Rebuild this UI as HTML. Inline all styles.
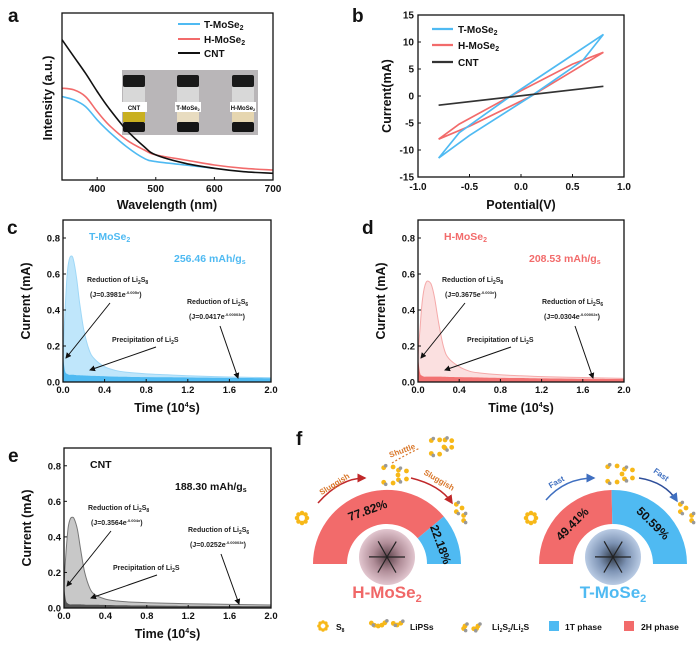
<!DOCTYPE html>
<html><head><meta charset="utf-8"><style>
html,body{margin:0;padding:0;background:#fff;}
svg{display:block;font-family:"Liberation Sans",Arial,sans-serif;font-weight:bold;}
</style></head><body>
<svg id="fig" width="700" height="647" viewBox="0 0 700 647">
<defs>
<radialGradient id="gPink" cx="50%" cy="50%" r="50%"><stop offset="0" stop-color="#5a4048"/><stop offset="0.5" stop-color="#b08d98"/><stop offset="1" stop-color="#e2c6cf"/></radialGradient>
<radialGradient id="gBlue" cx="50%" cy="50%" r="50%"><stop offset="0" stop-color="#303a48"/><stop offset="0.5" stop-color="#7d93b4"/><stop offset="1" stop-color="#b9cbe4"/></radialGradient>
<marker id="ah" markerWidth="6" markerHeight="6" refX="5" refY="3" orient="auto"><path d="M0,0 L6,3 L0,6 z" fill="#111"/></marker>
<marker id="ahR" markerWidth="6" markerHeight="6" refX="5" refY="3" orient="auto"><path d="M0,0 L6,3 L0,6 z" fill="#c0282a"/></marker>
<marker id="ahB" markerWidth="6" markerHeight="6" refX="5" refY="3" orient="auto"><path d="M0,0 L6,3 L0,6 z" fill="#3f6fc0"/></marker>
</defs>
</svg>
<script>
// ---------- Panel a data ----------
const uvWl = [340,360,380,400,420,450,480,500,550,600,650,700];
const uvCNT = [0.84,0.74,0.64,0.53,0.43,0.30,0.20,0.15,0.10,0.07,0.05,0.04];
const uvH = [0.55,0.54,0.50,0.41,0.33,0.24,0.18,0.15,0.12,0.09,0.07,0.06];
const uvT = [0.50,0.48,0.44,0.36,0.29,0.20,0.13,0.11,0.09,0.07,null,null];
const uvTicks = [400,500,600,700];
// ---------- Panel b data ----------
const cvTx = [-0.8,-0.6,-0.1,0.5,0.8,0.6,0.1,-0.5,-0.8];
const cvTy = [-11.5,-6.8,0,7.6,11.4,6.6,0,-7.3,-11.5];
const cvHx = [-0.8,-0.6,-0.1,0.5,0.8,0.5,0.1,-0.5,-0.8];
const cvHy = [-8,-5.2,0,5.9,8.1,4.6,0,-5.6,-8];
const cvCx = [-0.8,0.8];
const cvCy = [-1.7,1.8];
const cvXTicks = [-1.0,-0.5,0.0,0.5,1.0];
const cvYTicks = [-15,-10,-5,0,5,10,15];
// ---------- Panels c-e data ----------
const potT = [0,0.02,0.04,0.06,0.08,0.10,0.13,0.16,0.20,0.25,0.30,0.40,0.50,0.60,0.80,1.0,1.2,1.6,2.0];
const peakT = [0.15,0.40,0.60,0.68,0.70,0.68,0.58,0.44,0.29,0.18,0.13,0.085,0.065,0.055,0.045,0.04,0.035,0.028,0.024];
const baseT = [0.14,0.06,0.045,0.04,0.04,0.04,0.038,0.037,0.036,0.035,0.034,0.032,0.03,0.029,0.027,0.026,0.025,0.023,0.021];
const peakH = [0.15,0.30,0.44,0.52,0.555,0.56,0.54,0.47,0.33,0.19,0.13,0.085,0.06,0.05,0.04,0.035,0.03,0.025,0.02];
const baseH = [0.14,0.05,0.035,0.03,0.03,0.03,0.03,0.03,0.03,0.029,0.028,0.027,0.026,0.025,0.023,0.022,0.02,0.018,0.016];
const peakC = [0.13,0.32,0.45,0.50,0.51,0.50,0.44,0.33,0.20,0.11,0.075,0.05,0.04,0.035,0.03,0.027,0.024,0.02,0.017];
const baseC = [0.12,0.04,0.025,0.02,0.02,0.02,0.02,0.02,0.019,0.018,0.018,0.017,0.016,0.015,0.014,0.013,0.012,0.011,0.01];
const potXTicks = [0.0,0.4,0.8,1.2,1.6,2.0];
const potYTicks = [0.0,0.2,0.4,0.6,0.8];
// ---------- Panel f data ----------
const phaseH = [77.82,22.18];
const phaseT = [49.41,50.59];

const NS="http://www.w3.org/2000/svg";
const svg=document.getElementById('fig');
function el(tag,attrs,parent,txt){const e=document.createElementNS(NS,tag);for(const k in attrs)e.setAttribute(k,attrs[k]);if(txt!==undefined)e.textContent=txt;(parent||svg).appendChild(e);return e;}
function grp(name){const g=el('g',{});return g;}
function txt(g,x,y,s,size,fill,anchor,name,extra){const t=el('text',Object.assign({x:x,y:y,'font-size':size,fill:fill||'#111','text-anchor':anchor||'start'},extra||{}),g);t.innerHTML=s;return t;}
function lin(d0,d1,r0,r1){return v=>r0+(v-d0)/(d1-d0)*(r1-r0);}
// smooth path through points (Catmull-Rom -> Bezier), no leading M
function smooth(pts){let d='';for(let i=0;i<pts.length-1;i++){const p0=pts[Math.max(0,i-1)],p1=pts[i],p2=pts[i+1],p3=pts[Math.min(pts.length-1,i+2)];
 const c1=[p1[0]+(p2[0]-p0[0])/6,p1[1]+(p2[1]-p0[1])/6],c2=[p2[0]-(p3[0]-p1[0])/6,p2[1]-(p3[1]-p1[1])/6];
 d+='C'+c1[0].toFixed(1)+','+c1[1].toFixed(1)+' '+c2[0].toFixed(1)+','+c2[1].toFixed(1)+' '+p2[0].toFixed(1)+','+p2[1].toFixed(1);}return d;}
const RED='#f26b6b', BLUE='#4fbaf2';

// ---------- Panel a ----------
(function(){
 const g=grp('panel-a');
 const L=62,R=273,T=13,B=180;
 const X=lin(340,700,L,R), Y=lin(0,1,B,T);
 txt(g,8,22,'a',19,'#111','start','panel-label-a');
 const ph=grp('inset-photo'); g.appendChild(ph);
 el('rect',{x:122,y:70,width:136,height:65,fill:'#b9b6b8'},ph);
 [[134,'CNT','#c9b020'],[188,'T-MoSe<tspan font-size="4" dy="1">2</tspan>','#e8dcc0'],[243,'H-MoSe<tspan font-size="4" dy="1">2</tspan>','#e6d6b0']].forEach((v,i)=>{
  const c=v[0];
  el('rect',{x:c-11,y:75,width:22,height:12,rx:2,fill:'#1a1a1a'},ph);
  el('rect',{x:c-11,y:87,width:22,height:44,fill:'#d8d8d8'},ph);
  el('rect',{x:c-11,y:112,width:22,height:10,fill:v[2]},ph);
  el('rect',{x:c-11,y:122,width:22,height:10,rx:2,fill:'#151515'},ph);
  el('rect',{x:c-13,y:102,width:26,height:10,fill:'#fff'},ph);
  txt(ph,c,110,v[1],6,'#111','middle','vial-label-'+i);
 });
 function path(xs,ys,col,name){const pts=[];xs.forEach((x,i)=>{if(ys[i]!=null)pts.push([X(x),Y(ys[i])]);});const d='M'+pts[0][0]+','+pts[0][1]+smooth(pts);const p=el('path',{d:d,fill:'none',stroke:col,'stroke-width':1.6},g);}
 path(uvWl,uvH,RED,'line-h-mose2');
 path(uvWl,uvT,BLUE,'line-t-mose2');
 path(uvWl,uvCNT,'#111','line-cnt');
 const ax=el('rect',{x:L,y:T,width:R-L,height:B-T,fill:'none',stroke:'#111','stroke-width':1.3},g);
 
 uvTicks.forEach(t=>{el('line',{x1:X(t),x2:X(t),y1:B,y2:B-3,stroke:'#111'},g);txt(g,X(t),192,t,10,'#111','middle','x-tick-a');});
 txt(g,167,209,'Wavelength (nm)',12.5,'#111','middle','x-axis-title-a');
 txt(g,52,98,'Intensity (a.u.)',12.5,'#111','middle','y-axis-title-a',{transform:'rotate(-90 52 98)'});
 [['T-MoSe<tspan font-size="7" dy="2">2</tspan>',BLUE,28],['H-MoSe<tspan font-size="7" dy="2">2</tspan>',RED,43],['CNT','#111',57]].forEach((v,i)=>{
  el('line',{x1:178,x2:200,y1:v[2]-4,y2:v[2]-4,stroke:v[1],'stroke-width':2},g);
  txt(g,204,v[2],v[0],10,'#111','start','legend-entry-a-'+i);
 });
})();

// ---------- Panel b ----------
(function(){
 const g=grp('panel-b');
 const L=418,R=624,T=15,B=177;
 const X=lin(-1,1,L,R), Y=lin(-15,15,B,T);
 txt(g,352,22,'b',19,'#111','start','panel-label-b');
 function path(xs,ys,col,name){let d='';xs.forEach((x,i)=>{d+=(i?'L':'M')+X(x).toFixed(1)+','+Y(ys[i]).toFixed(1);});const p=el('path',{d:d,fill:'none',stroke:col,'stroke-width':1.7},g);}
 path(cvHx,cvHy,RED,'cv-h-mose2');
 path(cvTx,cvTy,BLUE,'cv-t-mose2');
 path(cvCx,cvCy,'#333','cv-cnt');
 const ax=el('rect',{x:L,y:T,width:R-L,height:B-T,fill:'none',stroke:'#111','stroke-width':1.3},g);
 
 cvXTicks.forEach(t=>{el('line',{x1:X(t),x2:X(t),y1:B,y2:B-3,stroke:'#111'},g);txt(g,X(t),190,t.toFixed(1),10,'#111','middle','x-tick-b');});
 cvYTicks.forEach(t=>{el('line',{x1:L,x2:L+3,y1:Y(t),y2:Y(t),stroke:'#111'},g);txt(g,L-4,Y(t)+3.5,t,10,'#111','end','y-tick-b');});
 txt(g,521,209,'Potential(V)',12.5,'#111','middle','x-axis-title-b');
 txt(g,391,96,'Current(mA)',12.5,'#111','middle','y-axis-title-b',{transform:'rotate(-90 391 96)'});
 [['T-MoSe<tspan font-size="7" dy="2">2</tspan>',BLUE,33],['H-MoSe<tspan font-size="7" dy="2">2</tspan>',RED,49],['CNT','#333',66]].forEach((v,i)=>{
  el('line',{x1:432,x2:453,y1:v[2]-4,y2:v[2]-4,stroke:v[1],'stroke-width':2.2},g);
  txt(g,458,v[2],v[0],10,'#111','start','legend-entry-b-'+i);
 });
})();

// ---------- Panels c,d,e ----------
function potPanel(id,L,R,T,B,peak,base,light,dark,stroke,label,labCol,cap,j1,j2){
 const g=grp('panel-'+id);
 const X=lin(0,2,L,R), Y=lin(0,0.9,B,T);
 txt(g,L-56,T+14,id,19,'#111','start','panel-label-'+id);
 function area(vals,fill,str,name){const pts=potT.map((t,i)=>[X(t),Y(vals[i])]);let d='M'+X(0)+','+Y(0)+'L'+pts[0][0]+','+pts[0][1]+smooth(pts)+'L'+X(2)+','+Y(0)+'Z';const p=el('path',{d:d,fill:fill,stroke:str,'stroke-width':1},g);}
 area(peak,light,stroke,'peak-area-'+id);
 area(base,dark,'none','baseline-area-'+id);
 const ax=el('rect',{x:L,y:T,width:R-L,height:B-T,fill:'none',stroke:'#111','stroke-width':1.3},g);
 
 potXTicks.forEach(t=>{el('line',{x1:X(t),x2:X(t),y1:B,y2:B-3,stroke:'#111'},g);txt(g,X(t),B+11,t.toFixed(1),9.5,'#111','middle','x-tick-'+id);});
 potYTicks.forEach(t=>{el('line',{x1:L,x2:L+3,y1:Y(t),y2:Y(t),stroke:'#111'},g);txt(g,L-3,Y(t)+3.5,t.toFixed(1),9.5,'#111','end','y-tick-'+id);});
 txt(g,(L+R)/2,B+30,'Time (10<tspan font-size="7" dy="-5">4</tspan><tspan dy="5">s)</tspan>',12.5,'#111','middle','x-axis-title-'+id);
 const yc=(T+B)/2;
 txt(g,L-33,yc,'Current (mA)',12.5,'#111','middle','y-axis-title-'+id,{transform:'rotate(-90 '+(L-33)+' '+yc+')'});
 txt(g,L+26,T+20,label,10.5,labCol,'start','series-label-'+id);
 txt(g,L+111,T+42,cap+' mAh/g<tspan font-size="7" dy="2">s</tspan>',10.5,labCol,'start','capacity-'+id);
 txt(g,L+24,T+62,'Reduction of Li<tspan font-size="5" dy="2">2</tspan><tspan dy="-2">S</tspan><tspan font-size="5" dy="2">8</tspan>',7,'#222','start','annot-li2s8-'+id);
 txt(g,L+27,T+77,'(J='+j1[0]+'e<tspan font-size="4" dy="-3">'+j1[1]+'</tspan><tspan dy="3">)</tspan>',7,'#222','start','annot-j1-'+id);
 el('line',{x1:L+47,y1:T+83,x2:L+3,y2:T+138,stroke:'#111','stroke-width':1,'marker-end':'url(#ah)'},g);
 txt(g,L+49,T+122,'Precipitation of Li<tspan font-size="5" dy="2">2</tspan><tspan dy="-2">S</tspan>',7,'#222','start','annot-li2s-'+id);
 el('line',{x1:L+93,y1:T+127,x2:L+27,y2:T+150,stroke:'#111','stroke-width':1,'marker-end':'url(#ah)'},g);
 txt(g,L+124,T+84,'Reduction of Li<tspan font-size="5" dy="2">2</tspan><tspan dy="-2">S</tspan><tspan font-size="5" dy="2">6</tspan>',7,'#222','start','annot-li2s6-'+id);
 txt(g,L+126,T+99,'(J='+j2[0]+'e<tspan font-size="4" dy="-3">'+j2[1]+'</tspan><tspan dy="3">)</tspan>',7,'#222','start','annot-j2-'+id);
 el('line',{x1:L+157,y1:T+106,x2:L+175,y2:B-4,stroke:'#111','stroke-width':1,'marker-end':'url(#ah)'},g);
}
potPanel('c',63,271,220,382,peakT,baseT,'#bfe6fb','#4fbaf2','#9fd8f7','T-MoSe<tspan font-size="7" dy="2">2</tspan>',BLUE,'256.46',['0.3981','-0.005x'],['0.0417','-0.00003x']);
potPanel('d',418,624,220,382,peakH,baseH,'#fbe0e0','#f27272','#f5a9a9','H-MoSe<tspan font-size="7" dy="2">2</tspan>',RED,'208.53',['0.3675','-0.003x'],['0.0304','-0.00002x']);
potPanel('e',64,271,448,608,peakC,baseC,'#c8c8c8','#555','#777','CNT','#111','188.30',['0.3564','-0.004x'],['0.0252','-0.00003x']);

// ---------- Panel f ----------
function ring(g,cx,cy,r){for(let i=0;i<8;i++){const a=i*Math.PI/4;el('circle',{cx:cx+r*Math.cos(a),cy:cy+r*Math.sin(a),r:r*0.45,fill:'#f7b818'},g);}el('circle',{cx:cx,cy:cy,r:r*0.5,fill:'#fff'},g);}
function chain(g,cx,cy,r,n,a0,a1){for(let i=0;i<n;i++){const a=a0+(a1-a0)*i/(n-1);el('circle',{cx:cx+r*Math.cos(a),cy:cy+r*Math.sin(a),r:2.4,fill:'#f7b818'},g);}
 el('circle',{cx:cx+r*Math.cos(a0)+2,cy:cy+r*Math.sin(a0)-2,r:1.8,fill:'#999'},g);el('circle',{cx:cx+r*Math.cos(a1)+2,cy:cy+r*Math.sin(a1)+2,r:1.8,fill:'#999'},g);}
function halfDonut(name,cx,cy,vals,tint,grad,label,labCol){
 const g=grp(name);
 const Ro=74,Ri=40;let start=Math.PI;
 const cols=[RED,BLUE];
 vals.forEach((v,i)=>{const end=start-v/100*Math.PI;
  const p=(a,r)=>(cx+r*Math.cos(a)).toFixed(1)+','+(cy-r*Math.sin(a)).toFixed(1);
  const d='M'+p(start,Ro)+' A'+Ro+','+Ro+' 0 0 1 '+p(end,Ro)+' L'+p(end,Ri)+' A'+Ri+','+Ri+' 0 0 0 '+p(start,Ri)+'Z';
  const s=el('path',{d:d,fill:cols[i]},g);
  const mid=(start+end)/2,rm=(Ro+Ri)/2;
  const tx=cx+rm*Math.cos(mid),ty=cy-rm*Math.sin(mid);
  const rot=90-mid*180/Math.PI;
  txt(g,tx,ty+4,v.toFixed(2)+'%',12,'#111','middle','phase-percent-'+i,{transform:'rotate('+rot+' '+tx+' '+ty+')'});
  start=end;});
 const c=el('circle',{cx:cx,cy:cy-7,r:28,fill:'url(#'+grad+')'},g);
 for(let i=0;i<6;i++){const a=i*1.05;el('line',{x1:cx,y1:cy-7,x2:cx+18*Math.cos(a),y2:cy-7+18*Math.sin(a),stroke:'#222','stroke-width':1.2},g);}
 txt(g,cx,cy+34,label,17,labCol,'middle','material-label');
 return g;
}
(function(){
 const g=grp('panel-f');
 txt(g,296,445,'f',19,'#111','start','panel-label-f');
 halfDonut('donut-h-mose2',387,564,phaseH,'pink','gPink','H-MoSe<tspan font-size="11" dy="4">2</tspan>','#f06868');
 halfDonut('donut-t-mose2',613,564,phaseT,'blue','gBlue','T-MoSe<tspan font-size="11" dy="4">2</tspan>','#4fbaf2');
 ring(g,302,518,5);
 el('path',{d:'M318,503 Q340,478 365,478',fill:'none',stroke:'#c0282a','stroke-width':1.5,'marker-end':'url(#ahR)'},g);
 txt(g,320,490,'Sluggish',8,'#d9772a','start','sluggish-label-1',{transform:'rotate(-32 330 490)'});
 chain(g,389,475,9,5,-2.2,2.2);chain(g,402,475,6,4,-2.2,2.2);
 el('path',{d:'M392,463 Q405,455 420,448',fill:'none',stroke:'#d9772a','stroke-width':1.2,'stroke-dasharray':'2,2'},g);
 txt(g,390,456,'Shuttle',8,'#d9772a','start','shuttle-label',{transform:'rotate(-20 395 456)'});
 chain(g,436,447,8,5,-2.2,2.2);chain(g,448,444,5,4,-2.2,2.2);
 el('path',{d:'M411,478 Q440,485 452,503',fill:'none',stroke:'#c0282a','stroke-width':1.5,'marker-end':'url(#ahR)'},g);
 txt(g,422,478,'Sluggish',8,'#d9772a','start','sluggish-label-2',{transform:'rotate(30 430 478)'});
 chain(g,458,508,4,3,-2,2);chain(g,462,518,3,2,-1,1);
 ring(g,531,518,5);
 el('path',{d:'M546,500 Q565,478 594,478',fill:'none',stroke:'#3f6fc0','stroke-width':1.5,'marker-end':'url(#ahB)'},g);
 txt(g,550,486,'Fast',8,'#3f6fc0','start','fast-label-1',{transform:'rotate(-30 555 486)'});
 chain(g,613,474,9,5,-2.2,2.2);chain(g,628,474,6,4,-2.2,2.2);
 el('path',{d:'M639,478 Q665,482 677,501',fill:'none',stroke:'#2f4f9a','stroke-width':1.5,'marker-end':'url(#ahB)'},g);
 txt(g,652,475,'Fast',8,'#3f6fc0','start','fast-label-2',{transform:'rotate(35 657 475)'});
 chain(g,682,508,4,3,-2,2);chain(g,690,518,3,2,-1,1);
 const lg=grp('legend-f'); g.appendChild(lg);
 ring(lg,323,626,4);
 txt(lg,336,630,'S<tspan font-size="5" dy="2">8</tspan>',8.5,'#111','start','legend-s8');
 chain(lg,378,617,9,5,0.7,2.4);chain(lg,397,620,5,3,0.7,2.4);
 txt(lg,410,630,'LiPSs',8.5,'#111','start','legend-lipss');
 chain(lg,462,626,3,2,0,1);chain(lg,475,626,3,3,0,2);
 txt(lg,492,630,'Li<tspan font-size="5" dy="2">2</tspan><tspan dy="-2">S</tspan><tspan font-size="5" dy="2">2</tspan><tspan dy="-2">/Li</tspan><tspan font-size="5" dy="2">2</tspan><tspan dy="-2">S</tspan>',8.5,'#111','start','legend-li2s');
 el('rect',{x:549,y:621,width:10,height:10,fill:BLUE},lg);
 txt(lg,565,630,'1T phase',8.5,'#111','start','legend-1t');
 el('rect',{x:624,y:621,width:10,height:10,fill:RED},lg);
 txt(lg,641,630,'2H phase',8.5,'#111','start','legend-2h');
})();
</script>
</body></html>
